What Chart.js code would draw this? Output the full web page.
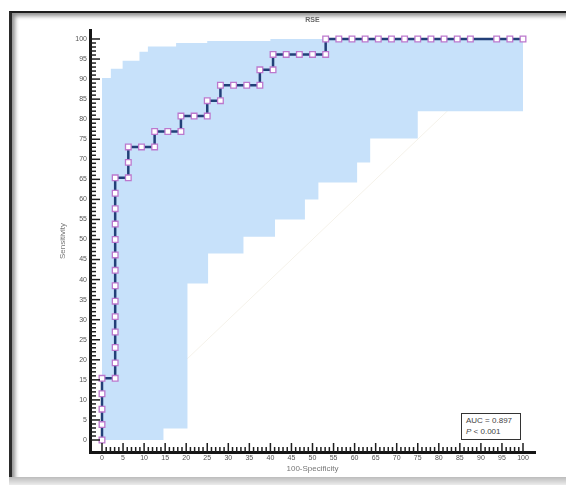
<!DOCTYPE html>
<html>
<head>
<meta charset="utf-8">
<script src="https://cdn.jsdelivr.net/npm/chart.js@4/dist/chart.umd.min.js"></script>
<style>
  html, body { margin: 0; padding: 0; background: #fff; overflow: hidden; }
  #wrap { position: relative; width: 566px; height: 485px; }
  .frame { position: absolute; left: 9px; top: 11px; width: 620px; height: 466px;
    border-top: 2px solid #1c1c1c; border-left: 3px solid #2a2a2a;
    box-shadow: inset 3px 3px 4px rgba(0,0,0,0.45); }
  .bottomShade { position: absolute; left: 9px; top: 477px; width: 560px; height: 8px;
    background: linear-gradient(#bcbcbc, #ececec); }
  canvas { position: absolute; left: 0; top: 0; }
  .auc { position: absolute; left: 461px; top: 413px; height: 24px;
    border: 1.5px solid #333; background: #fff;
    font: 8px "Liberation Sans", Arial, sans-serif; color: #444;
    line-height: 11px; padding: 1px 0 0 4px; box-sizing: content-box; width: 54px; }
</style>
</head>
<body>
<div id="wrap">
  <div class="frame"></div>
  <div class="bottomShade"></div>
  <canvas id="roc" width="566" height="485"></canvas>
  <div class="auc">AUC = 0.897<br><i>P</i> &lt; 0.001</div>
</div>
<script>
// ROC curve: 100-Specificity (x) vs Sensitivity (y), every criterion point
const rocFpr = [0, 0, 0, 0, 0,
  3.13, 3.13, 3.13, 3.13, 3.13, 3.13, 3.13, 3.13, 3.13, 3.13, 3.13, 3.13, 3.13, 3.13,
  6.25, 6.25, 6.25,
  9.38, 12.5, 12.5,
  15.63, 18.75, 18.75,
  21.88, 25, 25,
  28.13, 28.13,
  31.25, 34.38, 37.5, 37.5,
  40.63, 40.63,
  43.75, 46.88, 50, 53.13, 53.13,
  56.25, 59.38, 62.5, 65.63, 68.75, 71.88, 75, 78.13, 81.25, 84.38, 87.5, 93.75, 96.88, 100];
const rocSens = [0, 3.85, 7.69, 11.54, 15.38,
  15.38, 19.23, 23.08, 26.92, 30.77, 34.62, 38.46, 42.31, 46.15, 50, 53.85, 57.69, 61.54, 65.38,
  65.38, 69.23, 73.08,
  73.08, 73.08, 76.92,
  76.92, 76.92, 80.77,
  80.77, 80.77, 84.62,
  84.62, 88.46,
  88.46, 88.46, 88.46, 92.31,
  92.31, 96.15,
  96.15, 96.15, 96.15, 96.15, 100,
  100, 100, 100, 100, 100, 100, 100, 100, 100, 100, 100, 100, 100, 100];

// 95% confidence band, step values (value holds from x[i] to x[i+1])
const ciUpperX = [0, 2.1, 4.9, 8.9, 10.9, 17.6, 25, 40, 100];
const ciUpperY = [90.3, 92.6, 94.6, 96.8, 98.1, 99, 99.5, 100, 100];
const ciLowerX = [0, 14.6, 20.3, 25.2, 33.6, 41.1, 48.2, 51.4, 60.6, 63.7, 75, 100];
const ciLowerY = [0, 2.9, 39, 46.5, 50.7, 55, 60, 64.2, 69.2, 75.2, 82, 82];

const refLine = [0, 100];
const tickLabels = [0, 5, 10, 15, 20, 25, 30, 35, 40, 45, 50, 55, 60, 65, 70, 75, 80, 85, 90, 95, 100];

// closed outline of the band for fill:'shape'
const band = [];
for (let i = 0; i < ciUpperX.length - 1; i++) {
  band.push({x: ciUpperX[i], y: ciUpperY[i]}, {x: ciUpperX[i+1], y: ciUpperY[i]});
}
for (let i = ciLowerX.length - 2; i >= 0; i--) {
  band.push({x: ciLowerX[i+1], y: ciLowerY[i]}, {x: ciLowerX[i], y: ciLowerY[i]});
}

const innerTicks = {
  id: 'innerTicks',
  afterDraw(chart) {
    const {ctx, chartArea} = chart;
    const xs = chart.scales.x, ys = chart.scales.y;
    ctx.save();
    ctx.strokeStyle = '#1e1e1e';
    ctx.lineWidth = 1.5;
    for (let v = 0; v <= 100; v++) {
      const major = v % 5 === 0;
      const py = ys.getPixelForValue(v);
      ctx.beginPath();
      ctx.moveTo(chartArea.left, py);
      ctx.lineTo(chartArea.left + (major ? 10 : 6), py);
      ctx.stroke();
      const px = xs.getPixelForValue(v);
      ctx.beginPath();
      ctx.moveTo(px, chartArea.bottom);
      ctx.lineTo(px, chartArea.bottom - (major ? 9 : 5));
      ctx.stroke();
    }
    ctx.restore();
  }
};

const fontFam = '"Liberation Sans", Arial, sans-serif';
const setTicks = s => { s.ticks = tickLabels.map(v => ({value: v})); };

new Chart(document.getElementById('roc'), {
  type: 'line',
  data: {
    datasets: [{
      label: 'ROC',
      data: rocFpr.map((x, i) => ({x, y: rocSens[i]})),
      borderColor: '#223f78',
      borderWidth: 2.5,
      pointStyle: 'rect',
      pointRadius: 4,
      pointBorderWidth: 1.3,
      pointBorderColor: 'rgb(188,120,205)',
      pointBackgroundColor: '#ffffff',
      fill: false,
      tension: 0
    }, {
      label: 'CI',
      data: band,
      borderWidth: 0,
      pointRadius: 0,
      backgroundColor: 'rgb(199,225,250)',
      fill: 'shape',
      tension: 0
    }, {
      label: 'ref',
      data: refLine.map(v => ({x: v, y: v})),
      borderColor: '#f5f2ea',
      borderWidth: 1,
      pointRadius: 0,
      fill: false
    }]
  },
  options: {
    responsive: false,
    animation: false,
    layout: { padding: { left: 0, right: 31, top: 0, bottom: 0 } },
    plugins: {
      legend: { display: false },
      tooltip: { enabled: false },
      title: {
        display: true, text: 'RSE', fullSize: false, color: '#666',
        font: { family: fontFam, size: 7 },
        padding: { top: 16, bottom: 5.6 }
      }
    },
    scales: {
      x: {
        type: 'linear', bounds: 'data', min: -2.85, max: 102.85,
        afterBuildTicks: setTicks,
        afterFit: s => { s.height = 33; },
        grid: { display: true, drawOnChartArea: false, drawTicks: false },
        border: { display: true, width: 3, color: '#151515' },
        ticks: { padding: 2, autoSkip: false, maxRotation: 0, minRotation: 0,
          color: '#555', font: { family: fontFam, size: 7 }, callback: v => String(v) },
        title: { display: true, text: '100-Specificity', color: '#777',
          font: { family: fontFam, size: 8 }, padding: { top: 0, bottom: 11 } }
      },
      y: {
        type: 'linear', bounds: 'data', min: -2.99, max: 102.24,
        afterBuildTicks: setTicks,
        afterFit: s => { s.width = 90; },
        grid: { display: true, drawOnChartArea: false, drawTicks: false },
        border: { display: true, width: 3, color: '#151515' },
        ticks: { padding: 3, autoSkip: false, color: '#555',
          font: { family: fontFam, size: 7 }, callback: v => String(v) },
        title: { display: true, text: 'Sensitivity', color: '#777',
          font: { family: fontFam, size: 8 }, padding: { top: 58, bottom: 0 } }
      }
    }
  },
  plugins: [innerTicks]
});
</script>
</body>
</html>
